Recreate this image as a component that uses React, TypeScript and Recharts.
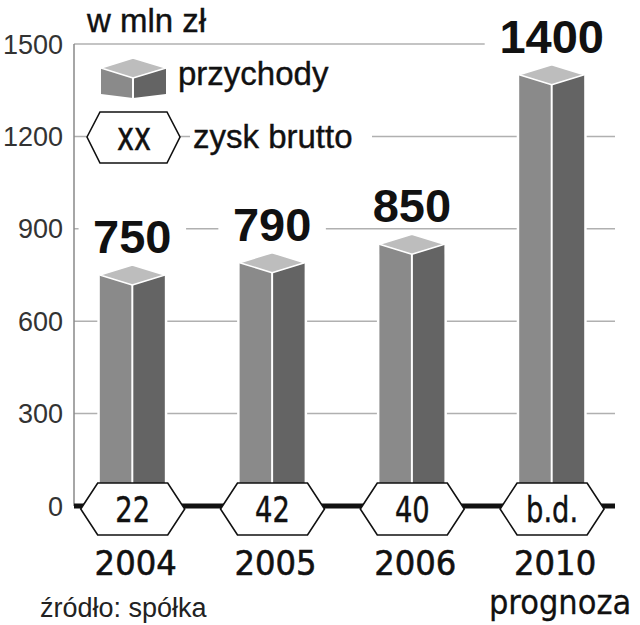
import React from 'react';
import { BarChart, Bar, XAxis, YAxis, CartesianGrid, LabelList, Legend, Label } from 'recharts';

const years = ['2004', '2005', '2006', '2010'];
const revenue = [750, 790, 850, 1400];
const profit = ['22', '42', '40', 'b.d.'];
const yearNotes = ['', '', '', 'prognoza'];
const yTicks = [0, 300, 600, 900, 1200, 1500];
const unitLabel = 'w mln zł';
const sourceLabel = 'źródło: spółka';
const revenueName = 'przychody';
const profitName = 'zysk brutto';

const data = years.map((y, i) => ({ idx: i, year: y, revenue: revenue[i], profit: profit[i], note: yearNotes[i] }));

const DJV = '"DejaVu Sans", sans-serif';
const SANS = '"Liberation Sans", Arial, sans-serif';

const C_TOP = '#bdbdbd';
const C_LEFT = '#8a8a8a';
const C_RIGHT = '#646464';

const pts = (arr: number[][]) => arr.map((p) => p.join(',')).join(' ');

const Bar3D = (props: any) => {
  const { x, y, width: w, height: h } = props;
  if (w == null || h == null) return null;
  const cx = x + w / 2;
  const d = 10;
  return (
    <g>
      <polygon points={pts([[x - 2.5, y], [cx, y - d - 2.5], [x + w + 2.5, y], [x + w + 2.5, y + h], [x - 2.5, y + h]])} fill="#fff" />
      <polygon points={pts([[x, y], [cx, y + d], [cx, y + h], [x, y + h]])} fill={C_LEFT} />
      <polygon points={pts([[cx, y + d], [x + w, y], [x + w, y + h], [cx, y + h]])} fill={C_RIGHT} />
      <polygon points={pts([[x, y], [cx, y - d], [x + w, y], [cx, y + d]])} fill={C_TOP} stroke="#fff" strokeWidth={1.5} strokeLinejoin="round" />
      <line x1={cx} y1={y + d} x2={cx} y2={y + h} stroke="#fff" strokeWidth={2} />
    </g>
  );
};

const ValueLabel = (props: any) => {
  const { x, y, width, value } = props;
  const cx = x + width / 2;
  const base = y - 22;
  const s = String(value);
  const tw = s.length * 26.5;
  return (
    <g>
      <rect x={cx - tw / 2 - 14} y={base - 36} width={tw + 28} height={40} fill="#fff" />
      <text x={cx} y={base} textAnchor="middle" fontFamily={SANS} fontWeight={700} fontSize={47} fill="#111">{s}</text>
    </g>
  );
};

const XTick = (props: any) => {
  const { x, y, payload } = props;
  const d = data[payload.value as number];
  if (!d) return null;
  const cy = y + 3;
  const hw = 52;
  const hh = 26;
  const inset = 17;
  return (
    <g>
      <polygon
        points={pts([[x - hw, cy], [x - hw + inset, cy - hh], [x + hw - inset, cy - hh], [x + hw, cy], [x + hw - inset, cy + hh], [x - hw + inset, cy + hh]])}
        fill="#fff" stroke="#111" strokeWidth={1.6}
      />
      <text transform={`translate(${x},${cy + 13}) scale(0.76,1)`} x={0} y={0} textAnchor="middle" fontFamily={DJV} fontSize={36} fill="#111" stroke="#111" strokeWidth={0.45}>{d.profit}</text>
      <text transform={`translate(${x + 3},${y + 69}) scale(0.95,1)`} x={0} y={0} textAnchor="middle" fontFamily={DJV} fontSize={34} fill="#111" stroke="#111" strokeWidth={0.6}>{d.year}</text>
      {d.note ? (
        <text transform={`translate(${x + 8},${y + 108}) scale(0.9,1)`} x={0} y={0} textAnchor="middle" fontFamily={DJV} fontSize={34} fill="#111" stroke="#111" strokeWidth={0.3}>{d.note}</text>
      ) : null}
    </g>
  );
};

const LegendContent = () => (
  <svg width={300} height={120} style={{ display: 'block' }}>
    <g transform="translate(-80,-50)">
      <polygon points={pts([[101, 68], [133, 78], [133, 98], [101, 94]])} fill={C_LEFT} />
      <polygon points={pts([[133, 78], [166, 68], [166, 94], [133, 98]])} fill={C_RIGHT} />
      <polygon points={pts([[101, 68], [133, 58], [166, 68], [133, 78]])} fill={C_TOP} stroke="#fff" strokeWidth={1.5} strokeLinejoin="round" />
      <line x1={133} y1={78} x2={133} y2={98} stroke="#fff" strokeWidth={2} />
      <text x={178} y={85} fontFamily={SANS} fontSize={33} fill="#111" stroke="#111" strokeWidth={0.4}>{revenueName}</text>
      <polygon points={pts([[87, 137], [100, 112], [167, 112], [180, 137], [167, 163], [100, 163]])} fill="#fff" stroke="#111" strokeWidth={1.6} />
      <text transform="translate(134,150) scale(0.72,1)" x={0} y={0} textAnchor="middle" fontFamily={DJV} fontSize={40} fill="#111" stroke="#111" strokeWidth={0.5}>xx</text>
      <rect x={190} y={115} width={182} height={44} fill="#fff" />
      <text x={193} y={148} fontFamily={SANS} fontSize={33} fill="#111" stroke="#111" strokeWidth={0.4}>{profitName}</text>
    </g>
  </svg>
);

const UnitLabel = (props: any) => {
  const { viewBox } = props;
  return (
    <text x={viewBox.x + viewBox.width + 13} y={viewBox.y - 12} fontFamily={SANS} fontSize={33} fill="#111" stroke="#111" strokeWidth={0.4}>{unitLabel}</text>
  );
};

const SourceLabel = (props: any) => {
  const { viewBox } = props;
  return (
    <text x={viewBox.x - 34} y={viewBox.y + 111} fontFamily={SANS} fontSize={27} fill="#222">{sourceLabel}</text>
  );
};

export default function App() {
  return (
    <div style={{ position: 'absolute', left: 0, top: 0, background: '#fff' }}>
      <BarChart width={640} height={625} data={data} margin={{ top: 44, right: 25, left: 0, bottom: 0 }}>
        <CartesianGrid vertical={false} stroke="#b0b0b0" strokeWidth={1.5} />
        <YAxis
          type="number"
          domain={[0, 1500]}
          ticks={yTicks}
          width={74}
          axisLine={{ stroke: '#888', strokeWidth: 1.5 }}
          tickLine={false}
          tickSize={0}
          tickMargin={11}
          tick={{ fontFamily: SANS, fontSize: 27, fill: '#333' }}
        >
          <Label content={<UnitLabel />} />
        </YAxis>
        <Bar dataKey="revenue" name={revenueName} barSize={65} shape={<Bar3D />} isAnimationActive={false}>
          <LabelList dataKey="revenue" content={<ValueLabel />} />
        </Bar>
        <XAxis
          dataKey="idx"
          type="number"
          domain={[-0.42, 3.45]}
          ticks={[0, 1, 2, 3]}
          height={119}
          axisLine={{ stroke: '#111', strokeWidth: 5 }}
          tickLine={false}
          tickSize={0}
          tickMargin={0}
          tick={<XTick />}
          interval={0}
        >
          <Label content={<SourceLabel />} />
        </XAxis>
        <Legend
          layout="vertical"
          align="center"
          verticalAlign="middle"
          content={<LegendContent />}
          wrapperStyle={{ left: 80, top: 50, width: 300, height: 120 }}
        />
      </BarChart>
    </div>
  );
}
